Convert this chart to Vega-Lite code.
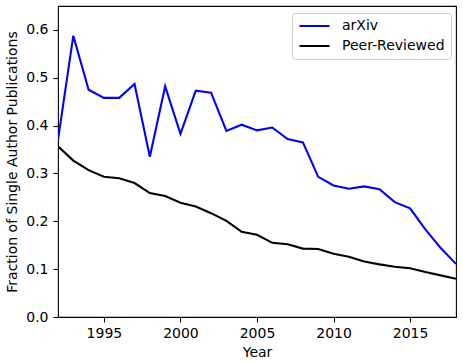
{
  "$schema": "https://vega.github.io/schema/vega-lite/v6.json",
  "width": 398,
  "height": 311,
  "autosize": {"type": "none"},
  "padding": {"left": 58, "top": 6, "right": 7, "bottom": 46},
  "config": {
    "font": "DejaVu Sans",
    "view": {"stroke": "black", "strokeWidth": 1.1},
    "axis": {
      "domain": false,
      "grid": false,
      "tickColor": "black",
      "tickSize": 5,
      "tickWidth": 1.1,
      "labelFont": "DejaVu Sans",
      "labelFontSize": 14,
      "labelColor": "black",
      "labelPadding": 4,
      "titleFont": "DejaVu Sans",
      "titleFontSize": 14,
      "titleFontWeight": "normal",
      "titleColor": "black"
    }
  },
  "data": {
    "values": [
      {"Year": 1992, "series": "arXiv", "value": 0.370},
      {"Year": 1993, "series": "arXiv", "value": 0.588},
      {"Year": 1994, "series": "arXiv", "value": 0.475},
      {"Year": 1995, "series": "arXiv", "value": 0.458},
      {"Year": 1996, "series": "arXiv", "value": 0.458},
      {"Year": 1997, "series": "arXiv", "value": 0.487},
      {"Year": 1998, "series": "arXiv", "value": 0.335},
      {"Year": 1999, "series": "arXiv", "value": 0.482},
      {"Year": 2000, "series": "arXiv", "value": 0.383},
      {"Year": 2001, "series": "arXiv", "value": 0.473},
      {"Year": 2002, "series": "arXiv", "value": 0.469},
      {"Year": 2003, "series": "arXiv", "value": 0.389},
      {"Year": 2004, "series": "arXiv", "value": 0.402},
      {"Year": 2005, "series": "arXiv", "value": 0.390},
      {"Year": 2006, "series": "arXiv", "value": 0.396},
      {"Year": 2007, "series": "arXiv", "value": 0.372},
      {"Year": 2008, "series": "arXiv", "value": 0.365},
      {"Year": 2009, "series": "arXiv", "value": 0.293},
      {"Year": 2010, "series": "arXiv", "value": 0.275},
      {"Year": 2011, "series": "arXiv", "value": 0.268},
      {"Year": 2012, "series": "arXiv", "value": 0.273},
      {"Year": 2013, "series": "arXiv", "value": 0.267},
      {"Year": 2014, "series": "arXiv", "value": 0.240},
      {"Year": 2015, "series": "arXiv", "value": 0.227},
      {"Year": 2016, "series": "arXiv", "value": 0.183},
      {"Year": 2017, "series": "arXiv", "value": 0.144},
      {"Year": 2018, "series": "arXiv", "value": 0.111},
      {"Year": 1992, "series": "Peer-Reviewed", "value": 0.357},
      {"Year": 1993, "series": "Peer-Reviewed", "value": 0.327},
      {"Year": 1994, "series": "Peer-Reviewed", "value": 0.307},
      {"Year": 1995, "series": "Peer-Reviewed", "value": 0.293},
      {"Year": 1996, "series": "Peer-Reviewed", "value": 0.290},
      {"Year": 1997, "series": "Peer-Reviewed", "value": 0.280},
      {"Year": 1998, "series": "Peer-Reviewed", "value": 0.259},
      {"Year": 1999, "series": "Peer-Reviewed", "value": 0.253},
      {"Year": 2000, "series": "Peer-Reviewed", "value": 0.239},
      {"Year": 2001, "series": "Peer-Reviewed", "value": 0.231},
      {"Year": 2002, "series": "Peer-Reviewed", "value": 0.217},
      {"Year": 2003, "series": "Peer-Reviewed", "value": 0.201},
      {"Year": 2004, "series": "Peer-Reviewed", "value": 0.178},
      {"Year": 2005, "series": "Peer-Reviewed", "value": 0.172},
      {"Year": 2006, "series": "Peer-Reviewed", "value": 0.155},
      {"Year": 2007, "series": "Peer-Reviewed", "value": 0.152},
      {"Year": 2008, "series": "Peer-Reviewed", "value": 0.143},
      {"Year": 2009, "series": "Peer-Reviewed", "value": 0.142},
      {"Year": 2010, "series": "Peer-Reviewed", "value": 0.132},
      {"Year": 2011, "series": "Peer-Reviewed", "value": 0.126},
      {"Year": 2012, "series": "Peer-Reviewed", "value": 0.116},
      {"Year": 2013, "series": "Peer-Reviewed", "value": 0.110},
      {"Year": 2014, "series": "Peer-Reviewed", "value": 0.105},
      {"Year": 2015, "series": "Peer-Reviewed", "value": 0.102},
      {"Year": 2016, "series": "Peer-Reviewed", "value": 0.094},
      {"Year": 2017, "series": "Peer-Reviewed", "value": 0.087},
      {"Year": 2018, "series": "Peer-Reviewed", "value": 0.080}
    ]
  },
  "mark": {"type": "line", "strokeWidth": 2.1, "clip": true},
  "encoding": {
    "x": {
      "field": "Year",
      "type": "quantitative",
      "scale": {"domain": [1992, 2018], "nice": false, "zero": false},
      "axis": {"values": [1995, 2000, 2005, 2010, 2015], "format": "d", "title": "Year", "titlePadding": 5}
    },
    "y": {
      "field": "value",
      "type": "quantitative",
      "scale": {"domain": [0, 0.65], "nice": false},
      "axis": {"values": [0, 0.1, 0.2, 0.3, 0.4, 0.5, 0.6], "format": ".1f", "title": "Fraction of Single Author Publications", "titlePadding": 6, "labelPadding": 5}
    },
    "color": {
      "field": "series",
      "type": "nominal",
      "scale": {"domain": ["arXiv", "Peer-Reviewed"], "range": ["#0000ff", "#000000"]},
      "legend": {
        "title": null,
        "orient": "none",
        "legendX": 234,
        "legendY": 7,
        "symbolType": "stroke",
        "symbolSize": 900,
        "symbolStrokeWidth": 2.1,
        "clipHeight": 14,
        "labelFontSize": 14,
        "labelFont": "DejaVu Sans",
        "labelColor": "black",
        "labelOffset": 11,
        "rowPadding": 6,
        "padding": 6,
        "strokeColor": "#cccccc",
        "fillColor": "rgba(255,255,255,0.8)",
        "cornerRadius": 3
      }
    }
  }
}
